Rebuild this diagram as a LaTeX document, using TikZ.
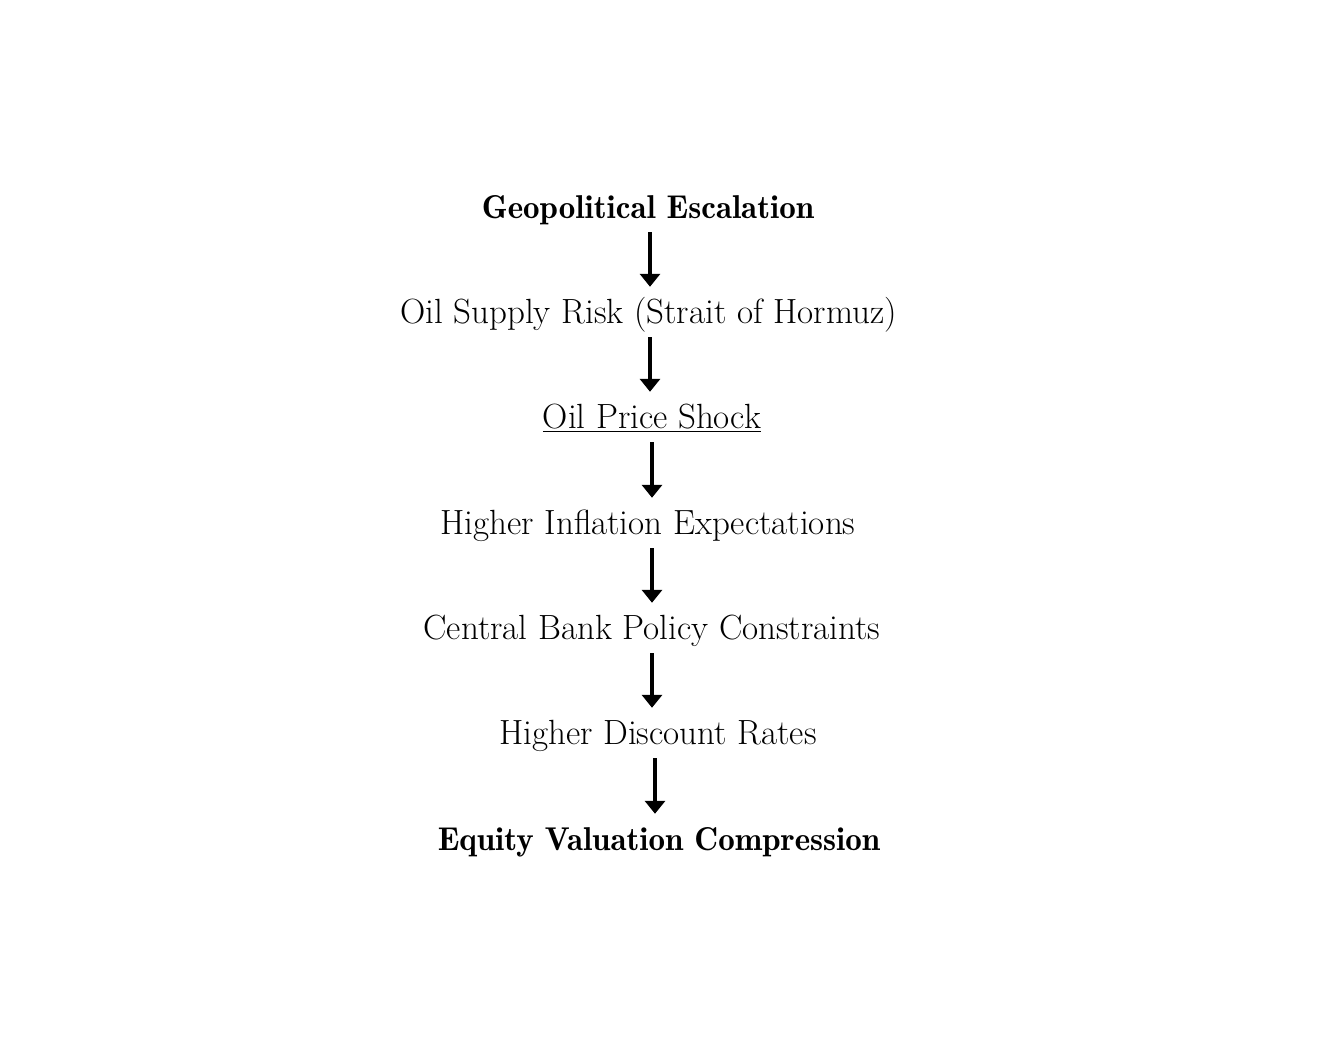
\documentclass[tikz,border=0pt]{standalone}
\usepackage{fontspec}
\newfontfamily\demifont{Latin Modern Roman Demi}
\usetikzlibrary{arrows.meta}
\begin{document}
\begin{tikzpicture}[x=1pt,y=1pt,
  lbl/.style={anchor=base, inner sep=0pt, text height=37pt, text depth=13pt, font=\fontsize{35}{40}\selectfont},
  blbl/.style={lbl, font=\fontsize{33}{40}\selectfont\demifont},
  arr/.style={line width=3.8pt, -{Triangle[width=20pt,length=13pt]}}]
\useasboundingbox (0,0) rectangle (1330,1064);
\node[blbl] (n1) at (648,845) {Geopolitical Escalation};
\node[lbl] (n2) at (648.5,740) {Oil Supply Risk (Strait of Hormuz)};
\node[lbl] (n3) at (652,635) {\underline{Oil Price Shock}};
\node[lbl] (n4) at (648,529) {Higher Inflation Expectations};
\node[lbl] (n5) at (652,424) {Central Bank Policy Constraints};
\node[lbl] (n6) at (658,319) {Higher Discount Rates};
\node[blbl] (n7) at (659,213) {Equity Valuation Compression};
\draw[arr] ([xshift=2pt]n1.south) -- ([xshift=2pt]n1.south |- n2.north);
\draw[arr] ([xshift=1.5pt]n2.south) -- ([xshift=1.5pt]n2.south |- n3.north);
\draw[arr] (n3.south) -- (n3.south |- n4.north);
\draw[arr] ([xshift=4pt]n4.south) -- ([xshift=4pt]n4.south |- n5.north);
\draw[arr] (n5.south) -- (n5.south |- n6.north);
\draw[arr] ([xshift=-3pt]n6.south) -- ([xshift=-3pt]n6.south |- n7.north);
\end{tikzpicture}
\end{document}
